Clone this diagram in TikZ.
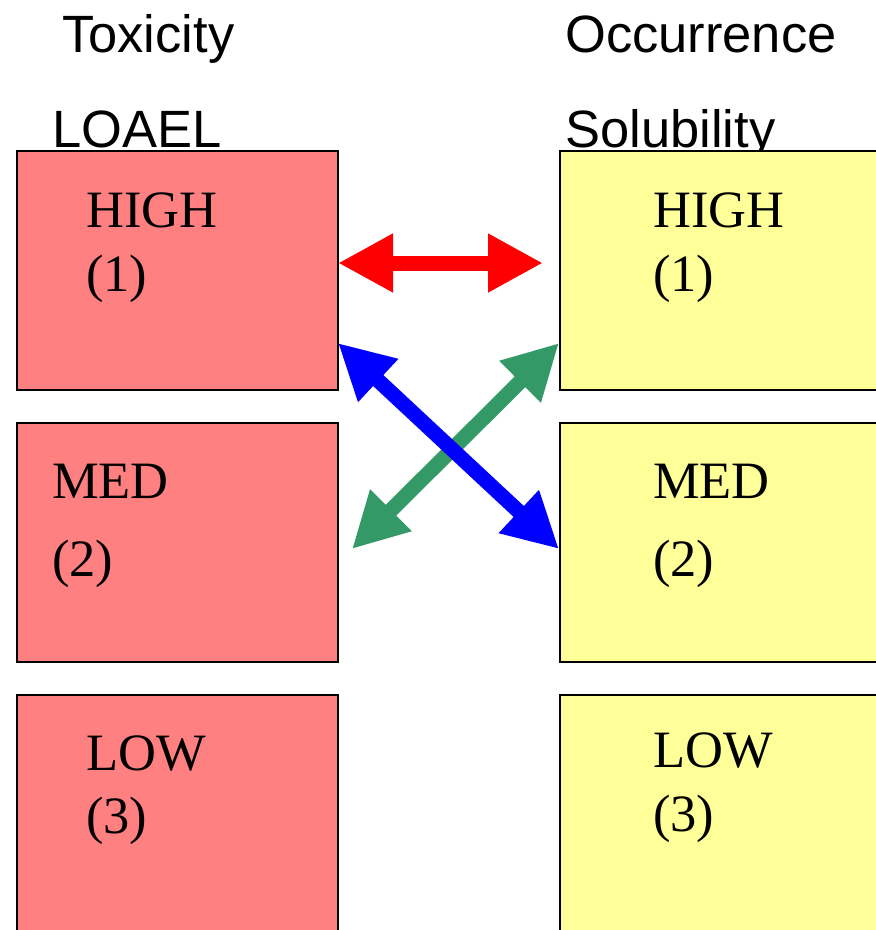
\documentclass[tikz,border=0pt]{standalone}
\usepackage{fontspec}
\setmainfont{Liberation Serif}
\newfontfamily\headfont{Liberation Sans}
\usetikzlibrary{arrows.meta}
\definecolor{boxred}{RGB}{255,128,128}
\definecolor{boxyellow}{RGB}{255,255,153}
\definecolor{arrgreen}{RGB}{51,153,102}
\begin{document}
\begin{tikzpicture}[x=1pt,y=-1pt,
  headtext/.style={anchor=base west,inner sep=0pt,font=\headfont\fontsize{52.5}{60}\selectfont},
  boxtext/.style={anchor=base west,inner sep=0pt,font=\fontsize{52.5}{60}\selectfont},
  redbox/.style={draw=black,line width=2pt,fill=boxred,anchor=north west,inner sep=0pt,minimum width=321pt,minimum height=239pt},
  yellowbox/.style={draw=black,line width=2pt,fill=boxyellow,anchor=north west,inner sep=0pt,minimum width=340pt,minimum height=239pt},
  bigarrow/.style={line width=15pt,{Triangle[length=55pt,width=55pt]}-{Triangle[length=55pt,width=55pt]}}
]
\useasboundingbox (0,0) rectangle (876,930);
\clip (0,0) rectangle (876,930);
% headings
\node[headtext] (tox) at (62,52) {Toxicity};
\node[headtext] (loael) at (52,147) {LOAEL};
\node[headtext] (occ) at (565,52) {Occurrence};
\node[headtext] (sol) at (565,147) {Solubility};
% boxes
\node[redbox] (lh) at (16,150) {};
\node[redbox] (lm) at (16,422) {};
\node[redbox] (ll) at (16,694) {};
\node[yellowbox] (rh) at (559,150) {};
\node[yellowbox] (rm) at (559,422) {};
\node[yellowbox] (rl) at (559,694) {};
% box texts
\node[boxtext] (lht) at (86,227) {HIGH};
\node[boxtext] (lhn) at (86,291) {(1)};
\node[boxtext] (lmt) at (52,498) {MED};
\node[boxtext] (lmn) at (52,576) {(2)};
\node[boxtext] (llt) at (86,770) {LOW};
\node[boxtext] (lln) at (86,833) {(3)};
\node[boxtext] (rht) at (653,227) {HIGH};
\node[boxtext] (rhn) at (653,291) {(1)};
\node[boxtext] (rmt) at (653,498) {MED};
\node[boxtext] (rmn) at (653,576) {(2)};
\node[boxtext] (rlt) at (653,767) {LOW};
\node[boxtext] (rln) at (653,831) {(3)};
% arrow end points
\coordinate (ra) at (338,263);
\coordinate (rb) at (543,263);
\coordinate (ba) at (338,343);
\coordinate (bb) at (559,549);
\coordinate (ga) at (559,343);
\coordinate (gb) at (352,549);
% arrows
\draw[bigarrow,draw=arrgreen,fill=arrgreen] (ga) -- (gb);
\draw[bigarrow,draw=blue,fill=blue] (ba) -- (bb);
\draw[bigarrow,draw=red,fill=red] (ra) -- (rb);
\end{tikzpicture}
\end{document}
